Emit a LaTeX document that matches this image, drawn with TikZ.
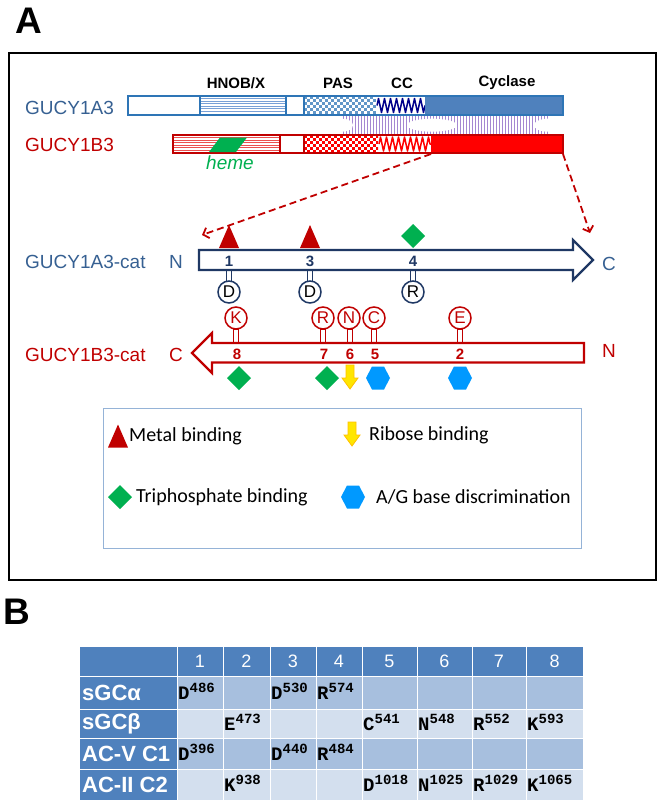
\documentclass[tikz,border=0pt]{standalone}
\usepackage{fontspec}
\setmainfont{Liberation Sans}
\newfontfamily\legfont{Carlito}
\newfontfamily\monofnt{Liberation Mono}
\usetikzlibrary{decorations.pathmorphing,arrows.meta}
\definecolor{barblue}{RGB}{46,117,182}
\definecolor{lblblue}{RGB}{54,96,146}
\definecolor{navy}{RGB}{31,56,100}
\definecolor{cycblue}{RGB}{79,129,189}
\definecolor{coilnavy}{RGB}{0,0,140}
\definecolor{stripeblue}{RGB}{120,160,215}
\definecolor{darkred}{RGB}{192,0,0}
\definecolor{brightred}{RGB}{255,0,0}
\definecolor{stripered}{RGB}{235,80,80}
\definecolor{hatchpurple}{RGB}{165,135,210}
\definecolor{dgreen}{RGB}{0,176,80}
\definecolor{hexblue}{RGB}{0,153,255}
\definecolor{yel}{RGB}{255,230,0}
\definecolor{yelo}{RGB}{255,192,0}
\definecolor{legline}{RGB}{149,179,215}
\definecolor{thead}{RGB}{79,129,189}
\definecolor{todd}{RGB}{167,191,222}
\definecolor{teven}{RGB}{211,223,238}
\tikzset{
  lbl/.style={font=\fontsize{19}{22}\selectfont, inner sep=0pt},
  dom/.style={font=\bfseries\fontsize{15}{17}\selectfont, inner sep=0pt},
  num/.style={font=\bfseries\fontsize{15}{17}\selectfont, inner sep=0pt},
  rescirc/.style={circle, draw=#1, line width=1.5pt, fill=white, minimum size=22pt, inner sep=0pt, font=\fontsize{17}{19}\selectfont},
  leg/.style={font=\legfont\fontsize{20}{22}\selectfont, inner sep=0pt, anchor=west},
  hdr/.style={font=\fontsize{18}{20}\selectfont, text=white, inner sep=0pt},
  rowname/.style={font=\bfseries\fontsize{22}{24}\selectfont, text=white, inner sep=0pt, anchor=west},
  cell/.style={font=\monofnt\bfseries, inner sep=0pt, anchor=base west},
  coilline/.style={line width=1.5pt, line join=round, decorate, decoration={zigzag, segment length=6pt, amplitude=7pt}},
  trimark/.pic={\fill[darkred] (-10,11.5) -- (0,-11.5) -- (10,11.5) -- cycle;},
  diamark/.pic={\fill[dgreen] (0,-12) -- (12,0) -- (0,12) -- (-12,0) -- cycle;},
  hexmark/.pic={\fill[hexblue] (-12,0) -- (-6,-11.5) -- (6,-11.5) -- (12,0) -- (6,11.5) -- (-6,11.5) -- cycle;},
  yelmark/.pic={\filldraw[fill=yel, draw=yelo, line width=0.8pt] (-4,-12) -- (4,-12) -- (4,1) -- (8,1) -- (0,12) -- (-8,1) -- (-4,1) -- cycle;},
  dasharrow/.style={darkred, line width=1.8pt, dash pattern=on 7pt off 4pt, -{Straight Barb[length=5pt,width=11pt]}},
}
\newcommand{\rs}[2]{{\fontsize{19}{19}\selectfont #1}{\fontsize{14}{14}\selectfont\raisebox{6.5pt}{#2}}}
\begin{document}
\begin{tikzpicture}[x=1pt, y=-1pt]
\useasboundingbox (0,0) rectangle (664,806);
% panel labels
\node[font=\bfseries\fontsize{37}{40}\selectfont, inner sep=0pt] (labA) at (29,21) {A};
\node[font=\bfseries\fontsize{37}{40}\selectfont, inner sep=0pt] (labB) at (17,612) {B};
\draw[black, line width=1.8pt] (9,53) rectangle (656,580);

% ---------- domain bars ----------
\node[dom] (tHNOB) at (236,83) {HNOB/X};
\node[dom] (tPAS) at (338,83) {PAS};
\node[dom] (tCC) at (402,83) {CC};
\node[dom] (tCyc) at (507,83) {Cyclase};
\node[lbl, text=lblblue, anchor=west] (gA) at (25,107.5) {GUCY1A3};
\node[lbl, text=darkred, anchor=west] (gB) at (25,145) {GUCY1B3};

% purple hatch between bars
\begin{scope}
  \clip (342,116) rectangle (548,134.5);
  \foreach \x in {343,346,...,547} \draw[hatchpurple, line width=0.9pt] (\x,116) -- (\x,134.5);
  \fill[white] (342,125.2) ellipse (11 and 6.5);
  \fill[white] (432,125.2) ellipse (25 and 6.5);
  \fill[white] (548,125.2) ellipse (14 and 6.5);
\end{scope}

% blue bar
\fill[white] (128,96) rectangle (563,115);
\foreach \y in {98.5,101,...,113} \draw[stripeblue, line width=0.6pt] (200,\y) -- (286,\y);
\begin{scope}
  \clip (304,96) rectangle (376,115);
  \foreach \i in {0,...,23}{\foreach \j in {0,...,6}{
    \pgfmathtruncatemacro\ck{mod(\i+\j,2)}
    \ifnum\ck=0 \fill[barblue!75] ({304+3*\i},{96+3*\j}) rectangle ++(3,3); \fi}}
\end{scope}
\begin{scope}
  \clip (376,97) rectangle (425,114);
  \draw[coilnavy, coilline] (377,105.5) -- (425,105.5);
\end{scope}
\fill[cycblue] (425,96) rectangle (563,115);
\draw[barblue, line width=1.5pt] (128,96) rectangle (563,115);
\draw[barblue, line width=1.5pt] (200,96) -- (200,115) (286,96) -- (286,115) (304,96) -- (304,115);

% red bar
\fill[white] (173,135) rectangle (563,153);
\foreach \y in {137.5,140,...,152} \draw[stripered, line width=0.6pt] (173,\y) -- (280,\y);
\begin{scope}
  \clip (304,135) rectangle (378,153);
  \foreach \i in {0,...,24}{\foreach \j in {0,...,6}{
    \pgfmathtruncatemacro\ck{mod(\i+\j,2)}
    \ifnum\ck=0 \fill[brightred] ({304+3*\i},{135+3*\j}) rectangle ++(3,3); \fi}}
\end{scope}
\begin{scope}
  \clip (378,136) rectangle (431,152);
  \draw[brightred, coilline] (379,144) -- (431,144);
\end{scope}
\fill[brightred] (431,135) rectangle (563,153);
\draw[darkred, line width=1.5pt] (173,135) rectangle (563,153);
\draw[darkred, line width=1.5pt] (280,135) -- (280,153) (304,135) -- (304,153);
\fill[dgreen] (209,152) -- (220,137.5) -- (247,137.5) -- (236,152) -- cycle;
\node[font=\itshape\fontsize{19}{22}\selectfont, text=dgreen, inner sep=0pt] (heme) at (230,163) {heme};

% dashed arrows
\coordinate (dsA) at (431,154);
\coordinate (dtA) at (202,235);
\coordinate (dsB) at (563,154);
\coordinate (dtB) at (590,233);
\draw[dasharrow] (dsA) -- (dtA);
\draw[dasharrow] (dsB) -- (dtB);

% ---------- GUCY1A3-cat ----------
\node[lbl, text=lblblue, anchor=west] (catA) at (25,262) {GUCY1A3-cat};
\node[lbl, text=lblblue] (nA) at (176,262) {N};
\node[lbl, text=lblblue] (cA) at (609,264) {C};
\foreach \x in {229,310,413} \filldraw[draw=navy, fill=white, line width=1.2pt] (\x-2.2,270) rectangle (\x+2.2,282);
\filldraw[draw=navy, fill=white, line width=2.2pt, line join=miter] (199,250) -- (573,250) -- (573,240) -- (593,260) -- (573,280) -- (573,270) -- (199,270) -- cycle;
\node[num, text=navy] (a1) at (229,261) {1};
\node[num, text=navy] (a3) at (310,261) {3};
\node[num, text=navy] (a4) at (413,261) {4};
\node[rescirc=navy] (rA1) at (229,292) {D};
\node[rescirc=navy] (rA3) at (310,292) {D};
\node[rescirc=navy] (rA4) at (413,292) {R};
\pic at (229,236.5) {trimark};
\pic at (310,236.5) {trimark};
\pic at (413,236) {diamark};

% ---------- GUCY1B3-cat ----------
\node[lbl, text=darkred, anchor=west] (catB) at (25,355) {GUCY1B3-cat};
\node[lbl, text=darkred] (cB) at (176,355) {C};
\node[lbl, text=darkred] (nB) at (609,351) {N};
\foreach \x in {236,323,350,374,460} \filldraw[draw=darkred, fill=white, line width=1.2pt] (\x-2.2,329) rectangle (\x+2.2,343);
\filldraw[draw=darkred, fill=white, line width=2.2pt, line join=miter] (584,343) -- (212,343) -- (212,333) -- (192,353) -- (212,373) -- (212,362.5) -- (584,362.5) -- cycle;
\node[num, text=darkred] (b8) at (237,354) {8};
\node[num, text=darkred] (b7) at (324,354) {7};
\node[num, text=darkred] (b6) at (350,354) {6};
\node[num, text=darkred] (b5) at (375,354) {5};
\node[num, text=darkred] (b2) at (460,354) {2};
\node[rescirc=darkred, text=darkred] (rB8) at (236,318) {K};
\node[rescirc=darkred, text=darkred] (rB7) at (323,318) {R};
\node[rescirc=darkred, text=darkred] (rB6) at (349,318) {N};
\node[rescirc=darkred, text=darkred] (rB5) at (374,318) {C};
\node[rescirc=darkred, text=darkred] (rB2) at (460,318) {E};
\pic at (239,378) {diamark};
\pic at (327,378) {diamark};
\pic at (350,377) {yelmark};
\pic at (378,378) {hexmark};
\pic at (460,378) {hexmark};

% ---------- legend ----------
\draw[legline, line width=1pt] (103,408) rectangle (581,548);
\pic at (118,436) {trimark};
\node[leg] (lMetal) at (129,436) {Metal binding};
\pic at (352,434) {yelmark};
\node[leg] (lRib) at (369,435) {Ribose binding};
\pic at (120,497) {diamark};
\node[leg] (lTri) at (136,497) {Triphosphate binding};
\pic at (353,497) {hexmark};
\node[leg] (lAG) at (376,497) {A/G base discrimination};

% ---------- table ----------
\fill[thead] (80,647) rectangle (583,676);
\fill[thead] (80,676) rectangle (177,800);
\fill[todd] (177,676) rectangle (583,709);
\fill[teven] (177,709) rectangle (583,738);
\fill[todd] (177,738) rectangle (583,769);
\fill[teven] (177,769) rectangle (583,800);
\foreach \x in {177,223,270,316,362,417,472,526} \draw[white, line width=1pt] (\x,647) -- (\x,800);
\foreach \y in {676,709,738,769} \draw[white, line width=1pt] (80,\y) -- (583,\y);
\node[hdr] (h1) at (200,661.5) {1};
\node[hdr] (h2) at (246.5,661.5) {2};
\node[hdr] (h3) at (293,661.5) {3};
\node[hdr] (h4) at (339,661.5) {4};
\node[hdr] (h5) at (389.5,661.5) {5};
\node[hdr] (h6) at (444.5,661.5) {6};
\node[hdr] (h7) at (499,661.5) {7};
\node[hdr] (h8) at (554.5,661.5) {8};
\node[rowname] (n1) at (82,693) {sGCα};
\node[rowname] (n2) at (82,724) {sGCβ};
\node[rowname] (n3) at (82,754) {AC-V C1};
\node[rowname] (n4) at (82,785) {AC-II C2};
% row sGCalpha
\node[cell] (c11) at (178,699) {\rs{D}{486}};
\node[cell] (c13) at (271,699) {\rs{D}{530}};
\node[cell] (c14) at (317,699) {\rs{R}{574}};
% row sGCbeta
\node[cell] (c22) at (224,730) {\rs{E}{473}};
\node[cell] (c25) at (363,730) {\rs{C}{541}};
\node[cell] (c26) at (418,730) {\rs{N}{548}};
\node[cell] (c27) at (473,730) {\rs{R}{552}};
\node[cell] (c28) at (527,730) {\rs{K}{593}};
% row AC-V C1
\node[cell] (c31) at (178,760) {\rs{D}{396}};
\node[cell] (c33) at (271,760) {\rs{D}{440}};
\node[cell] (c34) at (317,760) {\rs{R}{484}};
% row AC-II C2
\node[cell] (c42) at (224,791) {\rs{K}{938}};
\node[cell] (c45) at (363,791) {\rs{D}{1018}};
\node[cell] (c46) at (418,791) {\rs{N}{1025}};
\node[cell] (c47) at (473,791) {\rs{R}{1029}};
\node[cell] (c48) at (527,791) {\rs{K}{1065}};
\end{tikzpicture}
\end{document}
